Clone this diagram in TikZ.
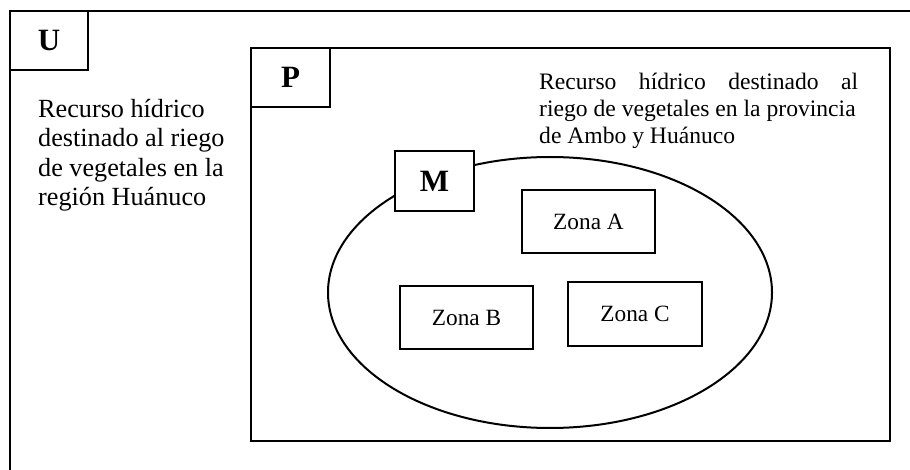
\documentclass[tikz,border=0pt]{standalone}
\usepackage{fontspec}
\setmainfont{Liberation Serif}
\usetikzlibrary{shapes.geometric}
\begin{document}
\begin{tikzpicture}[x=1pt,y=-1pt,
  labelbox/.style={draw,fill=white,line width=2.4pt,inner sep=0pt,minimum width=79pt,minimum height=59pt,font=\fontsize{31}{33}\selectfont\bfseries},
  zonebox/.style={draw,line width=1.2pt,inner sep=0pt,minimum width=133pt,minimum height=63pt,font=\fontsize{23.3}{26}\selectfont},
  ltext/.style={anchor=base west,inner sep=0pt,font=\fontsize{26.2}{30}\selectfont},
  rtext/.style={anchor=base west,inner sep=0pt,font=\fontsize{23.6}{27}\selectfont},
  frame/.style={draw,line width=2.5pt,inner sep=0pt}]
\fill[white] (0,0) rectangle (910,470);
\useasboundingbox (0,0) rectangle (910,470);
% outer universe frame (only top and left sides visible)
\coordinate (ubl) at (10,495);
\coordinate (utl) at (10,11);
\coordinate (utr) at (935,11);
\draw[line width=2pt] (ubl) -- (utl) -- (utr);
\node[labelbox,minimum width=78pt] (U) at (49,40.5) {U};
% universe text
\node[ltext] (u1) at (38,117.5) {Recurso hídrico};
\node[ltext] (u2) at (38,147) {destinado al riego};
\node[ltext] (u3) at (38,176.5) {de vegetales en la};
\node[ltext] (u4) at (38,206) {región Huánuco};
% population frame
\node[frame,minimum width=639pt,minimum height=393pt] (Pframe) at (570.5,244.5) {};
\node[labelbox] (P) at (290.5,77.5) {P};
\node[rtext] (p1) at (539,90) {\hbox to 319pt{Recurso\hfill hídrico\hfill destinado\hfill al}};
\node[rtext] (p2) at (539,117) {riego de vegetales en la provincia};
\node[rtext] (p3) at (539,144) {de Ambo y Huánuco};
% sample ellipse
\node[draw,ellipse,line width=2pt,inner sep=0pt,minimum width=444pt,minimum height=271pt] (Mset) at (550,292.5) {};
\node[labelbox,minimum height=60pt] (M) at (434.5,181) {M};
% zones
\node[zonebox] (A) at (588.5,221.5) {Zona A};
\node[zonebox] (B) at (466.5,317.5) {Zona B};
\node[zonebox,minimum width=134pt,minimum height=64pt] (C) at (635,314) {Zona C};
\end{tikzpicture}
\end{document}
